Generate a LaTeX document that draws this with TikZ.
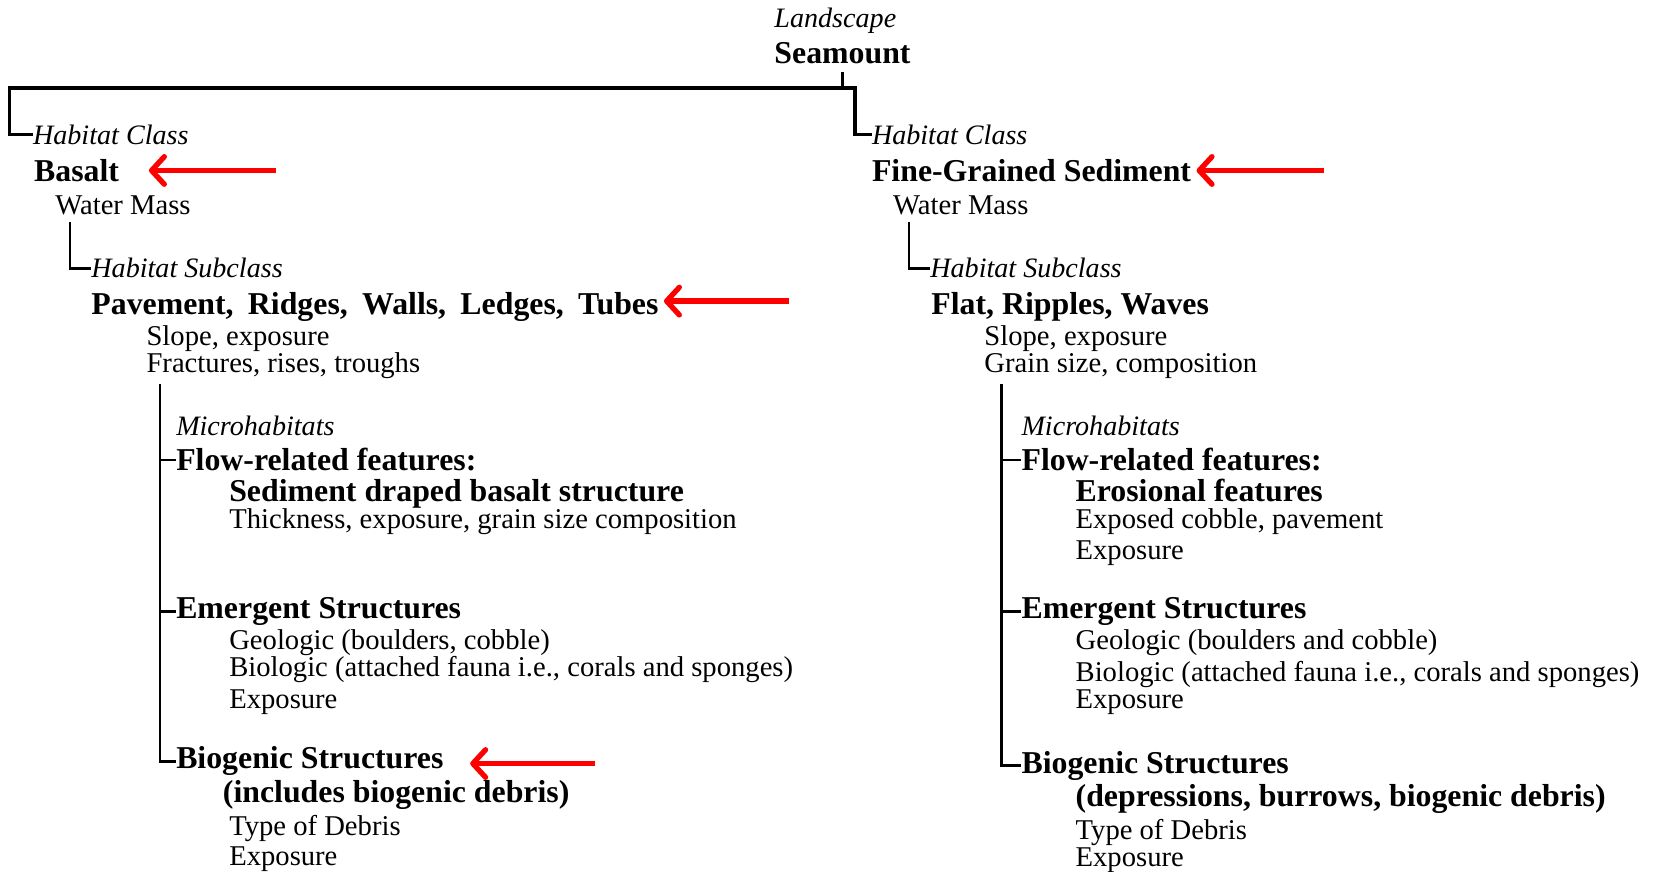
\documentclass[tikz,border=0pt]{standalone}
\usepackage{fontspec}
\setmainfont{Liberation Serif}
\usepackage{tikz}
\usetikzlibrary{arrows.meta}

\tikzset{
    txt/.style={anchor=base west, inner sep=0pt, font=\fontsize{27}{28}\selectfont},
    tag/.style={txt, font=\itshape\fontsize{26.5}{28}\selectfont},
    head/.style={txt, font=\bfseries\fontsize{30}{32}\selectfont},
    branch/.style={line width=2.5pt},
    redarrow/.style={red, line width=5pt, -{Straight Barb[length=12pt, width=26pt, round]}}
}

\begin{document}
\begin{tikzpicture}[x=1pt, y=-1pt]
    \useasboundingbox (0,0) rectangle (1568,822);
    % landscape
    \node[tag] (land) at (730,26) {Landscape};
    \node[head] (sea) at (730,60) {Seamount};
    % left: basalt
    \node[tag] (hcL) at (31,136) {Habitat Class};
    \node[head] (bas) at (32,171) {Basalt};
    \node[txt] (wmL) at (52,202) {Water Mass};
    \node[tag] (hsL) at (86,262) {Habitat Subclass};
    \node[head] (pavL) at (86,297) {\spaceskip=0.45em Pavement, Ridges, Walls, Ledges, Tubes};
    \node[txt] (slL) at (138,326) {Slope, exposure};
    \node[txt] (frL) at (138,351) {Fractures, rises, troughs};
    \node[tag] (miL) at (166,411) {Microhabitats};
    \node[head] (flL) at (166,444) {Flow-related features:};
    \node[head] (sdL) at (216,473) {Sediment draped basalt structure};
    \node[txt] (thL) at (216,498) {Thickness, exposure, grain size composition};
    \node[head] (emL) at (166,583) {Emergent Structures};
    \node[txt] (geL) at (216,612) {Geologic (boulders, cobble)};
    \node[txt] (biL) at (216,638) {Biologic (attached fauna i.e., corals and sponges)};
    \node[txt] (exL) at (216,668) {Exposure};
    \node[head] (bgL) at (166,725) {Biogenic Structures};
    \node[head] (inL) at (210,757) {(includes biogenic debris)};
    \node[txt] (tyL) at (216,788) {Type of Debris};
    \node[txt] (xbL) at (216,816) {Exposure};
    % right: fine-grained sediment
    \node[tag] (hcR) at (822,136) {Habitat Class};
    \node[head] (fgR) at (822,171) {Fine-Grained Sediment};
    \node[txt] (wmR) at (842,202) {Water Mass};
    \node[tag] (hsR) at (877,262) {Habitat Subclass};
    \node[head] (flatR) at (878,297) {Flat, Ripples, Waves};
    \node[txt] (slR) at (928,326) {Slope, exposure};
    \node[txt] (grR) at (928,351) {Grain size, composition};
    \node[tag] (miR) at (963,411) {Microhabitats};
    \node[head] (flR) at (963,444) {Flow-related features:};
    \node[head] (erR) at (1014,473) {Erosional features};
    \node[txt] (ecR) at (1014,498) {Exposed cobble, pavement};
    \node[txt] (exR) at (1014,528) {Exposure};
    \node[head] (emR) at (963,583) {Emergent Structures};
    \node[txt] (geR) at (1014,612) {Geologic (boulders and cobble)};
    \node[txt] (biR) at (1014,643) {Biologic (attached fauna i.e., corals and sponges)};
    \node[txt] (ex2R) at (1014,668) {Exposure};
    \node[head] (bgR) at (963,729) {Biogenic Structures};
    \node[head] (dpR) at (1014,760) {(depressions, burrows, biogenic debris)};
    \node[txt] (tyR) at (1014,792) {Type of Debris};
    \node[txt] (xbR) at (1014,817) {Exposure};

    % tree lines
    \coordinate (barL) at (9,83);
    \coordinate (barR) at (806,83);
    \draw[branch, line width=3.2pt] (hcL.west) -| (barL) -- (barR) |- (hcR.west);
    \draw[branch, line width=2pt, shorten <=7pt] (sea.south) -- (sea.south |- barR);
    \draw[branch, shorten <=7pt] ([xshift=14pt]wmL.south west) |- (hsL.west);
    \draw[branch, shorten <=7pt] ([xshift=15pt]wmR.south west) |- (hsR.west);
    \coordinate (vL) at ([xshift=13pt, yshift=-5pt]frL.south west);
    \coordinate (vR) at ([xshift=16pt, yshift=-5pt]grR.south west);
    \draw[branch] (vL) |- (bgL.west);
    \draw[branch] (flL.west) -- (flL.west -| vL);
    \draw[branch] (emL.west) -- (emL.west -| vL);
    \draw[branch] (vR) |- (bgR.west);
    \draw[branch] (flR.west) -- (flR.west -| vR);
    \draw[branch] (emR.west) -- (emR.west -| vR);

    % red pointers
    \draw[redarrow] ([xshift=148pt]bas.east) -- ([xshift=28pt]bas.east);
    \draw[redarrow] ([xshift=123pt, yshift=6pt]pavL.east) -- ([xshift=5pt, yshift=6pt]pavL.east);
    \draw[redarrow] ([xshift=125pt]fgR.east) -- ([xshift=5pt]fgR.east);
    \draw[redarrow] ([xshift=143pt, yshift=-2pt]bgL.east) -- ([xshift=25pt, yshift=-2pt]bgL.east);
\end{tikzpicture}
\end{document}
